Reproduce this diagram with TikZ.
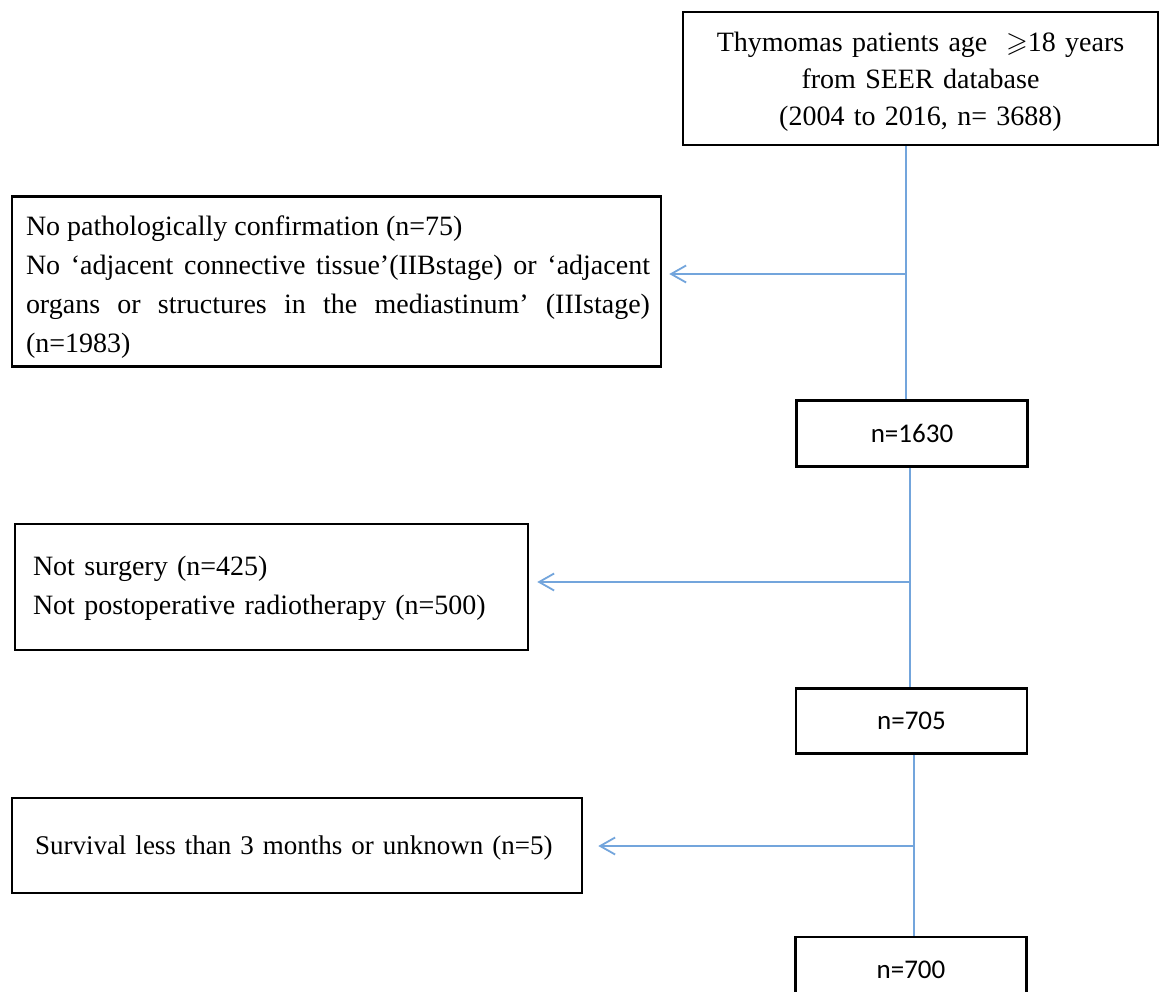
\documentclass[tikz,border=0pt]{standalone}
\usepackage{amssymb}
\usepackage{fontspec}
\setmainfont{Liberation Serif}
\newfontfamily\calfont{Carlito}
\usetikzlibrary{arrows.meta}
\definecolor{flowblue}{RGB}{115,165,220}
\begin{document}
\begin{tikzpicture}[x=1pt,y=-1pt,
  frame/.style={draw=black, line width=2.6pt, fill=white, inner sep=0pt},
  txt/.style={inner sep=0pt, font=\fontsize{28}{39}\selectfont},
  nbox/.style={draw=black, line width=2.6pt, fill=white, inner sep=0pt,
    minimum width=231pt, font=\calfont\fontsize{27}{32}\selectfont},
  flow/.style={draw=flowblue, line width=1.8pt},
  arr/.style={flow, -{Straight Barb[length=15pt,width=17pt,line width=1.8pt]}}]
\clip (0,0) rectangle (1163,992);
\fill[white] (0,0) rectangle (1163,992);

% top box
\node[frame, minimum width=475pt, minimum height=133pt] (top) at (920.5,78.5) {};
\node[txt, text width=460pt, align=center, font=\fontsize{28}{37}\selectfont]
  (ttop) at (920.5,81.5) {Thymomas patients age \ $\geqslant$18 years\\from SEER database\\(2004 to 2016, n= 3688)};

% exclusion 1
\node[frame, minimum width=649pt, minimum height=170pt] (b2) at (336.5,281.5) {};
\node[txt, text width=624pt, align=justify] (t2) at (338,287) {No pathologically confirmation (n=75)\\
  No ‘adjacent connective tissue’(IIBstage) or ‘adjacent\linebreak
  organs or structures in the mediastinum’ (IIIstage)\linebreak
  (n=1983)};

\node[nbox, minimum height=66pt] (n1) at (912,433.5) {n=1630};

% exclusion 2
\node[frame, minimum width=513pt, minimum height=126pt] (b3) at (271.5,587) {};
\node[txt, text width=477pt, align=left] (t3) at (271.5,588.5) {Not surgery (n=425)\\Not postoperative radiotherapy (n=500)};

\node[nbox, minimum height=65pt] (n2) at (911.5,721) {n=705};

% exclusion 3
\node[frame, minimum width=570pt, minimum height=95pt] (b4) at (297,845.5) {};
\node[txt, text width=540pt, align=left, font=\fontsize{27}{36}\selectfont] (t4) at (305,848) {Survival less than 3 months or unknown (n=5)};

\node[nbox, minimum height=66pt] (n3) at (911,970) {n=700};

\coordinate (j1) at (906,274);
\coordinate (j2) at (910,582);
\coordinate (j3) at (914,846);

\draw[flow] (top.south -| j1) -- (n1.north -| j1);
\draw[arr, shorten >=7pt] (j1) -- (j1 -| b2.east);

\draw[flow] (n1.south -| j2) -- (n2.north -| j2);
\draw[arr, shorten >=8pt] (j2) -- (j2 -| b3.east);

\draw[flow] (n2.south -| j3) -- (n3.north -| j3);
\draw[arr, shorten >=15pt] (j3) -- (j3 -| b4.east);
\end{tikzpicture}
\end{document}
